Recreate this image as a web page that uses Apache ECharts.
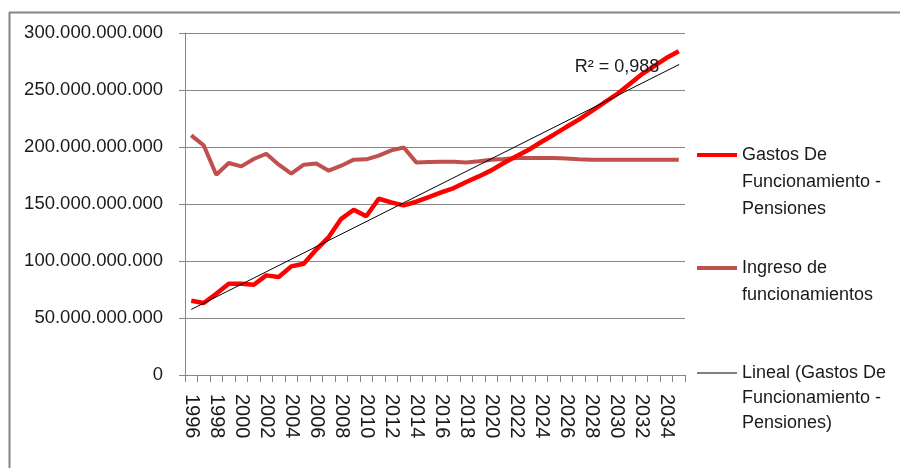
<!DOCTYPE html>
<html>
<head>
<meta charset="utf-8">
<script src="https://cdn.jsdelivr.net/npm/echarts@6/dist/echarts.min.js"></script>
<style>
  html, body { margin: 0; padding: 0; background: #fff; }
  #main { width: 900px; height: 468px; }
</style>
</head>
<body>
<div id="main"></div>
<script>
// valores en miles de millones
const years = [];
for (let y = 1996; y <= 2035; y++) years.push(String(y));

const gastos = [65.2, 63.1, 71.3, 80.1, 80.0, 79.2, 87.4, 86.0, 95.3, 97.6,
  110.0, 121.0, 137.0, 145.0, 139.2, 154.6, 151.4, 148.8, 152.0, 156.1,
  160.2, 164.0, 169.3, 174.2, 179.5, 186.0, 191.8, 197.6, 204.4, 210.8,
  217.5, 224.0, 231.2, 238.6, 245.9, 254.6, 263.4, 270.7, 278.0, 283.9];

const ingreso = [210.2, 201.4, 175.7, 186.0, 183.0, 189.5, 194.1, 184.5, 176.6, 184.5,
  185.6, 179.2, 183.6, 188.9, 189.2, 192.4, 197.0, 199.6, 186.5, 186.9,
  187.0, 187.0, 186.5, 187.5, 188.8, 189.5, 190.3, 190.3, 190.3, 190.3,
  190.0, 189.3, 188.8, 188.8, 188.8, 188.8, 188.8, 188.8, 188.8, 188.8];

// extremos de la linea de tendencia (lineal)
const trendEnds = [57.5, 272.2];
const r2Text = 'R\u00B2 = 0,988';

const names = {
  gastos: 'Gastos De Funcionamiento - Pensiones',
  ingreso: 'Ingreso de funcionamientos',
  lineal: 'Lineal (Gastos De Funcionamiento - Pensiones)'
};
const legendText = {};
legendText[names.gastos] = '\n\nGastos De\nFuncionamiento -\nPensiones';
legendText[names.ingreso] = '\nIngreso de\nfuncionamientos';
legendText[names.lineal] = '\n\nLineal (Gastos De\nFuncionamiento -\nPensiones)';

const font = 'Liberation Sans';

const trend = years.map(function (y, i) {
  if (i === 0) return trendEnds[0];
  if (i === years.length - 1) {
    return {
      value: trendEnds[1],
      symbol: 'circle', symbolSize: 1,
      label: {
        show: true, position: 'left', distance: 19, offset: [0, 2],
        formatter: r2Text, fontSize: 18, color: '#1a1a1a',
        fontFamily: font
      }
    };
  }
  return null;
});

function fmt(v) {
  if (v === 0) return '0';
  return String(Math.round(v * 1e9)).replace(/\B(?=(\d{3})+(?!\d))/g, '.');
}

function legendFor(name, top, h, color, lh) {
  return {
    data: [name], left: 697, top: top, orient: 'vertical', padding: 0,
    icon: 'rect', itemWidth: 40, itemHeight: h,
    itemStyle: { color: color },
    selectedMode: false,
    formatter: function (n) { return legendText[n]; },
    textStyle: { fontFamily: font, fontSize: 18, color: '#1a1a1a', lineHeight: lh }
  };
}

const chart = echarts.init(document.getElementById('main'));
const option = {
  animation: false,
  backgroundColor: '#fff',
  grid: { left: 185, top: 33, right: 215, bottom: 93 },
  legend: [
    legendFor(names.gastos, 155 - 2.5 * 27, 4, '#ff0000', 27),
    legendFor(names.ingreso, 268 - 1.5 * 27, 4, '#c0504d', 27),
    legendFor(names.lineal, 373 - 2.5 * 25, 1, '#000000', 25)
  ],
  xAxis: {
    type: 'category',
    data: years,
    boundaryGap: true,
    axisLine: { lineStyle: { color: '#868686' } },
    axisTick: { show: true, length: 7, interval: 0, lineStyle: { color: '#868686' } },
    axisLabel: {
      interval: 1, rotate: -90, margin: 19,
      fontFamily: font, fontSize: 20, color: '#1a1a1a'
    },
    splitLine: { show: false }
  },
  yAxis: {
    type: 'value',
    min: 0, max: 300, interval: 50,
    axisLine: { show: true, lineStyle: { color: '#868686' } },
    axisTick: { show: true, length: 6, lineStyle: { color: '#868686' } },
    axisLabel: {
      margin: 22, formatter: fmt,
      fontFamily: font, fontSize: 18.5, color: '#1a1a1a'
    },
    splitLine: { lineStyle: { color: '#868686' } }
  },
  series: [
    {
      name: names.ingreso, type: 'line', data: ingreso,
      symbol: 'none', z: 2,
      lineStyle: { color: '#c0504d', width: 4 },
      itemStyle: { color: '#c0504d' }
    },
    {
      name: names.gastos, type: 'line', data: gastos,
      symbol: 'none', z: 3,
      lineStyle: { color: '#ff0000', width: 4.5 },
      itemStyle: { color: '#ff0000' }
    },
    {
      name: names.lineal, type: 'line', data: trend,
      connectNulls: true, symbol: 'none', z: 4,
      lineStyle: { color: '#000000', width: 1 },
      itemStyle: { color: '#000000' }
    }
  ],
  graphic: [
    { type: 'line', shape: { x1: 9, y1: 12.5, x2: 900, y2: 12.5 }, style: { stroke: '#868686', lineWidth: 2 } },
    { type: 'line', shape: { x1: 9.5, y1: 12, x2: 9.5, y2: 468 }, style: { stroke: '#868686', lineWidth: 2 } }
  ]
};
chart.setOption(option);
</script>
</body>
</html>
